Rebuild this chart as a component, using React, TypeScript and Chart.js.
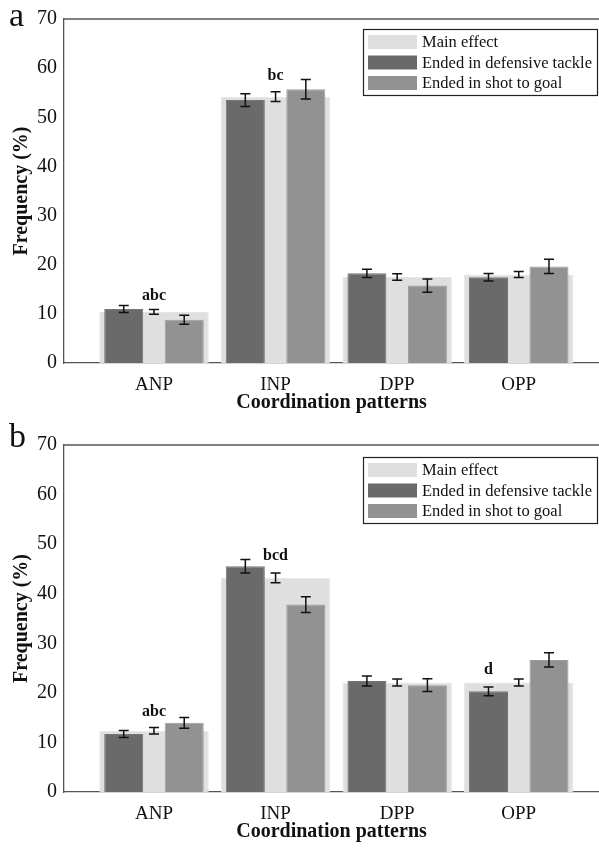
import React, { useEffect, useRef } from "react";
import { Chart, registerables } from "chart.js";

Chart.register(...registerables);

// ---- data ----
const categories = ["ANP", "INP", "DPP", "OPP"];
const seriesNames = ["Main effect", "Ended in defensive tackle", "Ended in shot to goal"];

// Panel a
const aMain = [10.4, 54.2, 17.5, 18.0];
const aMainErr = [0.5, 1.0, 0.65, 0.6];
const aTackle = [11.0, 53.5, 18.25, 17.45];
const aTackleErr = [0.7, 1.3, 0.85, 0.75];
const aShot = [8.8, 55.7, 15.75, 19.65];
const aShotErr = [0.9, 2.0, 1.35, 1.45];
const aNoteText = ["abc", "bc"];
const aNoteCat = [0, 1];
const aNoteSeries = [0, 0];
const aNoteValue = [12.9, 57.6];

// Panel b
const bMain = [12.35, 43.2, 22.1, 22.1];
const bMainErr = [0.65, 1.0, 0.7, 0.7];
const bTackle = [11.7, 45.55, 22.4, 20.3];
const bTackleErr = [0.7, 1.35, 1.0, 0.9];
const bShot = [13.95, 37.8, 21.55, 26.65];
const bShotErr = [1.1, 1.6, 1.3, 1.45];
const bNoteText = ["abc", "bcd", "d"];
const bNoteCat = [0, 1, 3];
const bNoteSeries = [0, 0, 1];
const bNoteValue = [15.3, 46.9, 23.9];

const yTicks = [0, 10, 20, 30, 40, 50, 60, 70];

const SERIF = "'Liberation Serif', 'DejaVu Serif', serif";
const COLORS = ["#dfdfdf", "#6a6a6a", "#929292"];
const BORDERS = ["#e6e6e6", "#757575", "#9c9c9c"];

type PanelProps = {
  letter: string;
  letterY: number;
  main: number[];
  mainErr: number[];
  tackle: number[];
  tackleErr: number[];
  shot: number[];
  shotErr: number[];
  noteText: string[];
  noteCat: number[];
  noteSeries: number[];
  noteValue: number[];
  height: number;
  padTop: number;
  legendTop: number;
};

function Panel(p: PanelProps) {
  const ref = useRef<HTMLCanvasElement | null>(null);
  useEffect(() => {
    if (!ref.current) return;
    const errs = [p.mainErr, p.tackleErr, p.shotErr];

    const framePlugin = {
      id: "frame",
      afterDatasetsDraw(chart: any) {
        const { ctx, chartArea, scales } = chart;
        const ys = scales.y;
        ctx.save();
        // error bars
        ctx.strokeStyle = "#111";
        ctx.lineWidth = 1.5;
        chart.data.datasets.forEach((ds: any, di: number) => {
          const meta = chart.getDatasetMeta(di);
          meta.data.forEach((bar: any, j: number) => {
            const v = ds.data[j].y;
            const e = errs[di][j];
            const x = bar.x;
            const y1 = ys.getPixelForValue(v + e);
            const y2 = ys.getPixelForValue(v - e);
            const cap = 5;
            ctx.beginPath();
            ctx.moveTo(x, y1);
            ctx.lineTo(x, y2);
            ctx.moveTo(x - cap, y1);
            ctx.lineTo(x + cap, y1);
            ctx.moveTo(x - cap, y2);
            ctx.lineTo(x + cap, y2);
            ctx.stroke();
          });
        });
        // annotations
        ctx.fillStyle = "#111";
        ctx.font = `bold 16px ${SERIF}`;
        ctx.textAlign = "center";
        ctx.textBaseline = "alphabetic";
        p.noteText.forEach((t, k) => {
          const bar = chart.getDatasetMeta(p.noteSeries[k]).data[p.noteCat[k]];
          ctx.fillText(t, bar.x, ys.getPixelForValue(p.noteValue[k]));
        });
        // top frame line
        ctx.strokeStyle = "#555";
        ctx.lineWidth = 1.3;
        ctx.beginPath();
        ctx.moveTo(chartArea.left, chartArea.top);
        ctx.lineTo(chartArea.right + 2, chartArea.top);
        ctx.stroke();
        // legend
        const lx = 363, ly = p.legendTop, lw = 234, lh = 66;
        ctx.fillStyle = "#fff";
        ctx.fillRect(lx, ly, lw, lh);
        ctx.strokeStyle = "#222";
        ctx.lineWidth = 1.2;
        ctx.strokeRect(lx + 0.5, ly + 0.5, lw, lh);
        ctx.font = `16.5px ${SERIF}`;
        ctx.textAlign = "left";
        ctx.textBaseline = "middle";
        chart.data.datasets.forEach((ds: any, i: number) => {
          const cy = ly + 13 + i * 20.5;
          ctx.fillStyle = COLORS[i];
          ctx.fillRect(lx + 5, cy - 7, 49, 14);
          ctx.fillStyle = "#111";
          ctx.fillText(ds.label, lx + 59, cy + 1);
        });
        // panel letter
        ctx.font = `34px ${SERIF}`;
        ctx.textAlign = "left";
        ctx.textBaseline = "alphabetic";
        ctx.fillText(p.letter, 9, p.letterY);
        ctx.restore();
      },
    };

    const mk = (arr: number[]) => arr.map((v, i) => ({ x: i + 1, y: v }));

    const chart = new Chart(ref.current, {
      type: "bar",
      data: {
        datasets: [
          {
            label: seriesNames[0],
            data: mk(p.main),
            backgroundColor: COLORS[0],
            borderColor: BORDERS[0],
            borderWidth: 1,
            grouped: false,
            categoryPercentage: 0.9,
            barPercentage: 1,
            order: 2,
          } as any,
          {
            label: seriesNames[1],
            data: mk(p.tackle),
            backgroundColor: COLORS[1],
            borderColor: BORDERS[1],
            borderWidth: 1,
            categoryPercentage: 0.995,
            barPercentage: 0.645,
            order: 1,
          },
          {
            label: seriesNames[2],
            data: mk(p.shot),
            backgroundColor: COLORS[2],
            borderColor: BORDERS[2],
            borderWidth: 1,
            categoryPercentage: 0.995,
            barPercentage: 0.645,
            order: 1,
          },
        ],
      },
      options: {
        animation: false,
        responsive: false,
        maintainAspectRatio: false,
        layout: { padding: { top: p.padTop, right: 0, bottom: 0, left: 0 } },
        plugins: { legend: { display: false }, tooltip: { enabled: false } },
        scales: {
          x: {
            type: "linear",
            offset: false,
            min: 0.26,
            max: 4.66,
            afterBuildTicks: (axis: any) => {
              axis.ticks = categories.map((_, i) => ({ value: i + 1 }));
            },
            afterFit: (s: any) => {
              s.height = 57;
            },
            ticks: {
              autoSkip: false,
              maxRotation: 0,
              padding: 11,
              color: "#111",
              font: { family: SERIF, size: 19 },
              callback: (v: any) => categories[Number(v) - 1] ?? "",
            },
            grid: { display: false, drawTicks: false },
            border: { display: true, color: "#555", width: 1.3 },
            title: {
              display: true,
              text: "Coordination patterns",
              color: "#111",
              font: { family: SERIF, size: 20, weight: "bold" },
              padding: { top: 0, bottom: 5 },
            },
          } as any,
          y: {
            min: 0,
            max: 70,
            afterBuildTicks: (axis: any) => {
              axis.ticks = yTicks.map((v) => ({ value: v }));
            },
            afterFit: (s: any) => {
              s.width = 64;
            },
            ticks: {
              padding: 7,
              color: "#111",
              font: { family: SERIF, size: 20 },
            },
            grid: { display: false, drawTicks: false },
            border: { display: true, color: "#555", width: 1.3 },
            title: {
              display: true,
              text: "Frequency (%)",
              color: "#111",
              font: { family: SERIF, size: 20, weight: "bold" },
              padding: { top: 10, bottom: 0 },
            },
          } as any,
        },
      },
      plugins: [framePlugin],
    });
    return () => chart.destroy();
  }, []);
  return <canvas ref={ref} width={599} height={p.height} style={{ display: "block" }} />;
}

export default function App() {
  return (
    <div style={{ position: "absolute", left: 0, top: 0, width: 599, height: 849, background: "#fff" }}>
      <Panel
        letter="a"
        letterY={26}
        main={aMain}
        mainErr={aMainErr}
        tackle={aTackle}
        tackleErr={aTackleErr}
        shot={aShot}
        shotErr={aShotErr}
        noteText={aNoteText}
        noteCat={aNoteCat}
        noteSeries={aNoteSeries}
        noteValue={aNoteValue}
        height={420}
        padTop={16}
        legendTop={29}
      />
      <Panel
        letter="b"
        letterY={27}
        main={bMain}
        mainErr={bMainErr}
        tackle={bTackle}
        tackleErr={bTackleErr}
        shot={bShot}
        shotErr={bShotErr}
        noteText={bNoteText}
        noteCat={bNoteCat}
        noteSeries={bNoteSeries}
        noteValue={bNoteValue}
        height={429}
        padTop={25}
        legendTop={37}
      />
    </div>
  );
}
